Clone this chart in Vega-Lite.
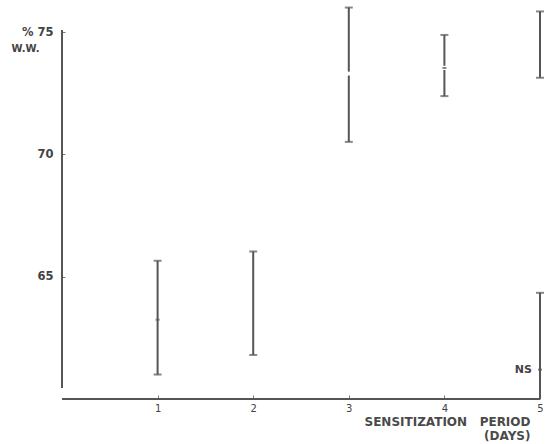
{
  "$schema": "https://vega.github.io/schema/vega-lite/v6.json",
  "width": 478,
  "height": 367,
  "autosize": "none",
  "padding": {"left": 62, "top": 32, "right": 12, "bottom": 45},
  "background": "white",
  "config": {"view": {"stroke": null}},
  "datasets": {
    "segs": [
      {"x": 0, "x2": 0, "y": 60.45, "y2": 75.08},
      {"x": 0, "x2": 5, "y": 60, "y2": 60},
      {"x": 1, "x2": 1, "y": 61.0, "y2": 65.65},
      {"x": 2, "x2": 2, "y": 61.8, "y2": 66.03},
      {"x": 3, "x2": 3, "y": 70.51, "y2": 73.22},
      {"x": 3, "x2": 3, "y": 73.38, "y2": 76.0},
      {"x": 4, "x2": 4, "y": 72.38, "y2": 73.45},
      {"x": 4, "x2": 4, "y": 73.62, "y2": 74.88},
      {"x": 5, "x2": 5, "y": 73.13, "y2": 75.84},
      {"x": 5, "x2": 5, "y": 60, "y2": 64.34}
    ],
    "caps": [
      {"x": 1, "y": 61.0}, {"x": 1, "y": 65.65},
      {"x": 2, "y": 61.8}, {"x": 2, "y": 66.03},
      {"x": 3, "y": 70.51}, {"x": 3, "y": 76.0},
      {"x": 4, "y": 72.38}, {"x": 4, "y": 74.88},
      {"x": 5, "y": 73.13}, {"x": 5, "y": 75.84},
      {"x": 5, "y": 64.34}
    ],
    "dots": [
      {"x": 1, "y": 63.24},
      {"x": 4, "y": 73.53},
      {"x": 5, "y": 61.2}
    ],
    "labels": [
      {"x": 5, "y": 61.2, "text": "NS"}
    ]
  },
  "layer": [
    {
      "data": {"name": "segs"},
      "mark": {"type": "rule", "color": "#555555", "strokeWidth": 2},
      "encoding": {
        "x": {
          "field": "x", "type": "quantitative",
          "scale": {"domain": [0, 5], "nice": false, "zero": false},
          "axis": {
            "values": [1, 2, 3, 4, 5],
            "format": "d",
            "domain": false, "grid": false,
            "tickSize": -4, "tickColor": "#777777", "tickWidth": 1,
            "labelFont": "DejaVu Sans", "labelFontSize": 10,
            "labelColor": "#444444", "labelPadding": 8, "labelFlush": false,
            "title": ["SENSITIZATION\u00a0\u00a0\u00a0PERIOD", "(DAYS)"],
            "titleFont": "DejaVu Sans", "titleFontSize": 12, "titleFontWeight": "bold",
            "titleColor": "#4a4a4a", "titleAlign": "right", "titleAnchor": null,
            "titleX": 468, "titleY": 17, "titleBaseline": "top", "titleLineHeight": 14.5
          }
        },
        "x2": {"field": "x2"},
        "y": {
          "field": "y", "type": "quantitative",
          "scale": {"domain": [60, 75], "nice": false, "zero": false},
          "axis": {
            "values": [65, 70, 75],
            "labelExpr": "datum.value == 75 ? '%  75' : datum.label",
            "domain": false, "grid": false,
            "tickSize": -3, "tickColor": "#777777", "tickWidth": 1,
            "labelFont": "DejaVu Sans", "labelFontSize": 11.5, "labelFontWeight": "bold",
            "labelColor": "#444444", "labelPadding": 12,
            "title": "W.W.",
            "titleFont": "DejaVu Sans", "titleFontSize": 10, "titleFontWeight": "bold",
            "titleColor": "#444444", "titleAngle": 0, "titleAlign": "left",
            "titleX": -51, "titleY": 16, "titleBaseline": "middle"
          }
        },
        "y2": {"field": "y2"}
      }
    },
    {
      "data": {"name": "caps"},
      "mark": {"type": "tick", "orient": "horizontal", "color": "#555555", "size": 8, "thickness": 2},
      "encoding": {
        "x": {"field": "x", "type": "quantitative"},
        "y": {"field": "y", "type": "quantitative"}
      }
    },
    {
      "data": {"name": "dots"},
      "mark": {"type": "tick", "orient": "horizontal", "color": "#555555", "size": 4, "thickness": 2},
      "encoding": {
        "x": {"field": "x", "type": "quantitative"},
        "y": {"field": "y", "type": "quantitative"}
      }
    },
    {
      "data": {"name": "labels"},
      "mark": {"type": "text", "align": "right", "baseline": "middle", "dx": -8, "font": "DejaVu Sans", "fontSize": 11, "fontWeight": "bold", "color": "#444444"},
      "encoding": {
        "x": {"field": "x", "type": "quantitative"},
        "y": {"field": "y", "type": "quantitative"},
        "text": {"field": "text"}
      }
    }
  ]
}
